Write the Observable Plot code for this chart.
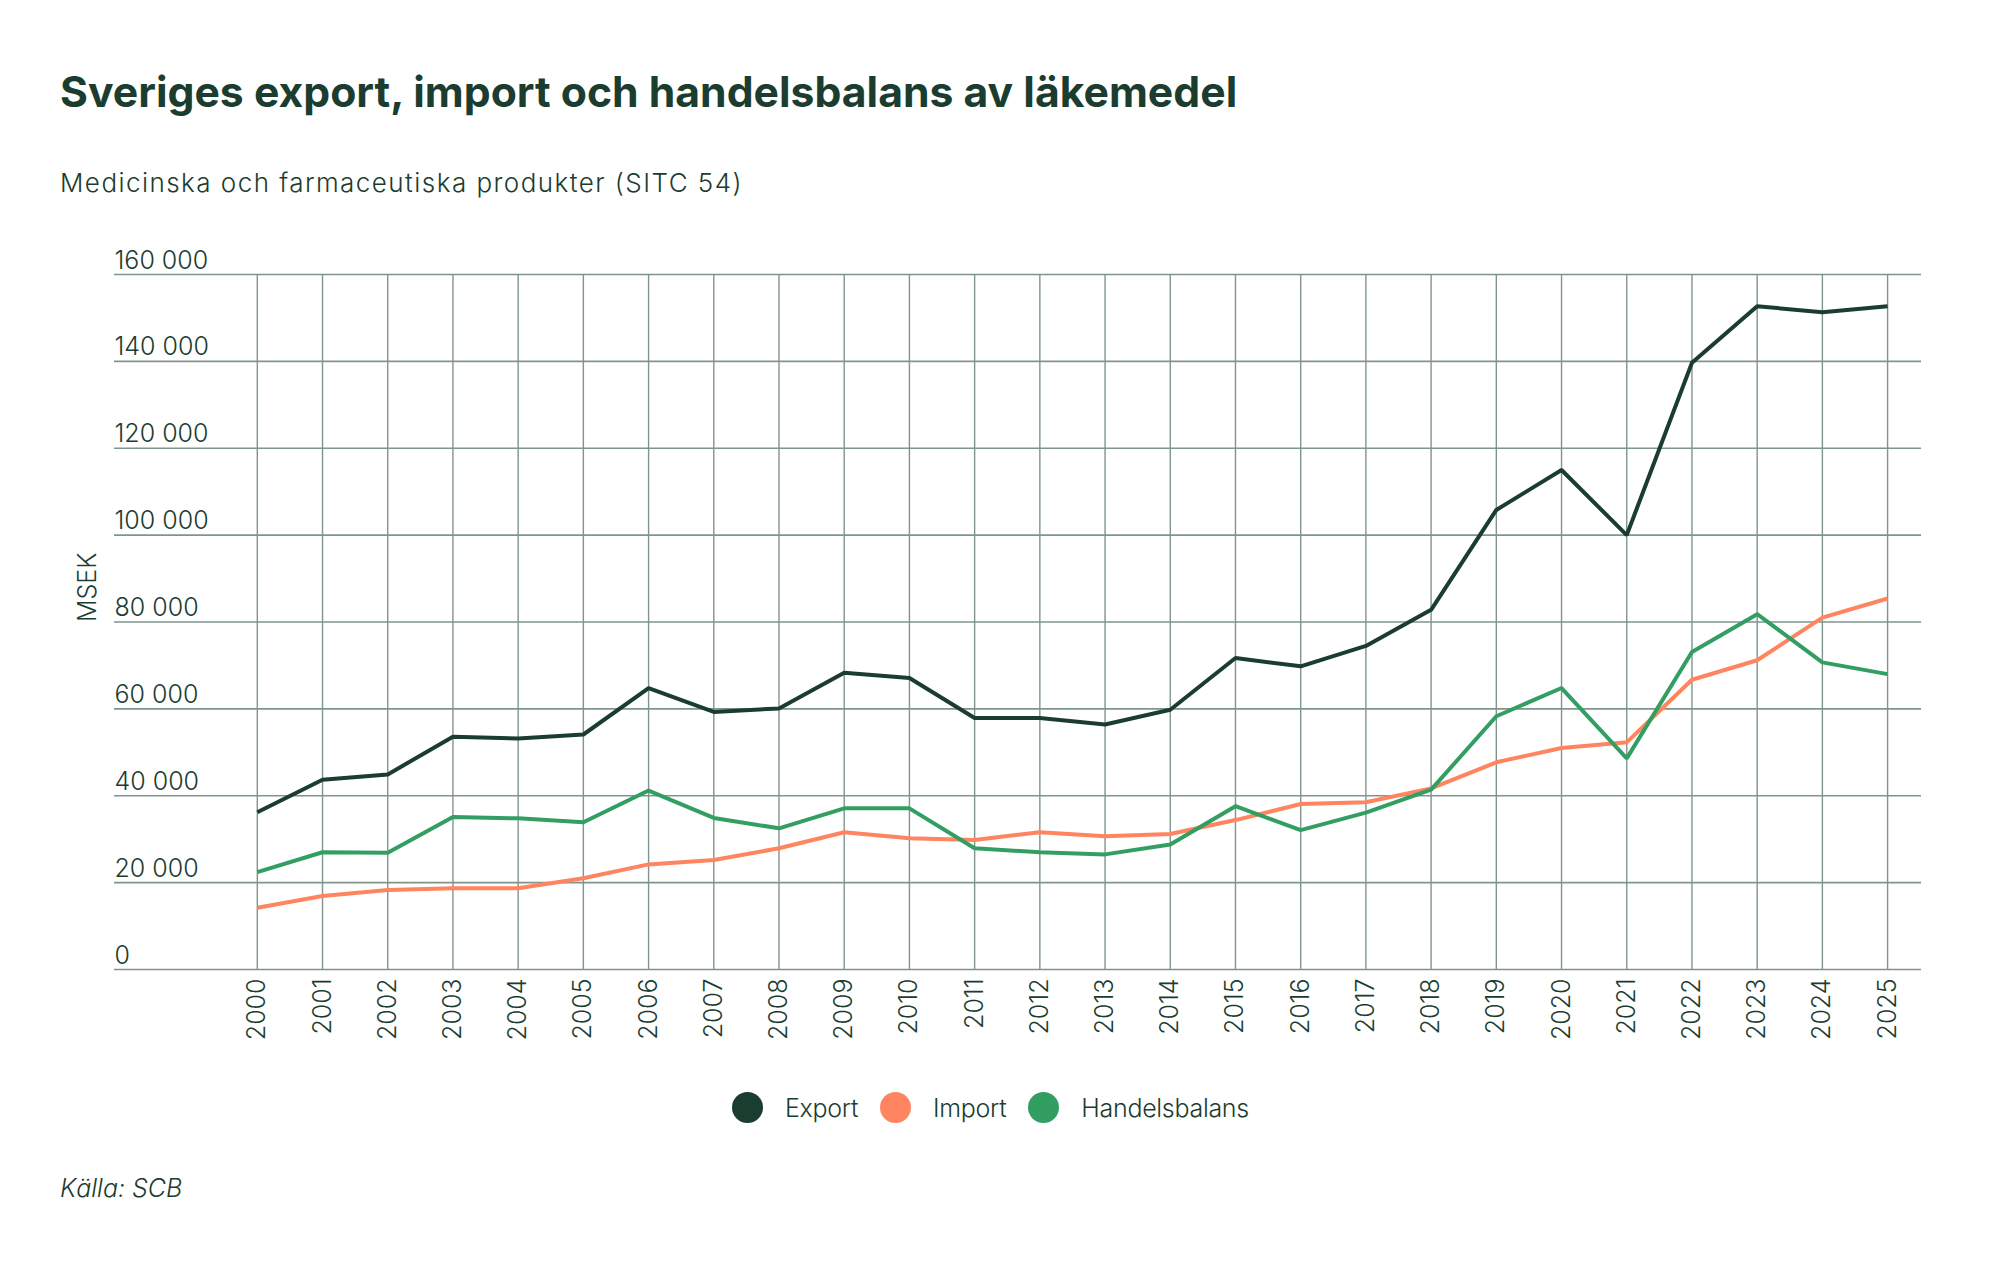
<!DOCTYPE html>
<html>
<head>
<meta charset="utf-8">
<script src="https://cdn.jsdelivr.net/npm/d3@7"></script>
<script src="https://cdn.jsdelivr.net/npm/@observablehq/plot@0.6"></script>
<style>
  html, body { margin: 0; padding: 0; background: #fff; }
  body { width: 2000px; height: 1270px; position: relative; font-family: Inter, "Noto Sans", sans-serif; color: #1b3d2f; overflow: hidden; }
  #title { position: absolute; left: 60px; top: 71px; font-size: 42.7px; line-height: 42px; font-weight: 700; letter-spacing: 0px; white-space: nowrap; }
  #subtitle { position: absolute; left: 60px; top: 170px; font-size: 26px; line-height: 26px; font-weight: 300; letter-spacing: 1.45px; white-space: nowrap; }
  #chart { position: absolute; left: 0; top: 230px; }
  #legend { position: absolute; left: 732px; top: 1092px; height: 31px; display: flex; align-items: center; font-size: 25px; font-weight: 300; letter-spacing: -0.3px; }
  #legend .item { display: flex; align-items: center; margin-right: 22px; }
  #legend .dot { width: 31px; height: 31px; border-radius: 50%; margin-right: 22px; }
  #caption { position: absolute; left: 60px; top: 1176px; font-size: 25px; line-height: 25px; font-style: italic; font-weight: 300; }
</style>
</head>
<body>
<div id="title">Sveriges export, import och handelsbalans av läkemedel</div>
<div id="subtitle">Medicinska och farmaceutiska produkter (SITC 54)</div>
<div id="chart"></div>
<div id="legend"></div>
<div id="caption">Källa: SCB</div>
<script>
const years = [2000,2001,2002,2003,2004,2005,2006,2007,2008,2009,2010,2011,2012,2013,2014,2015,2016,2017,2018,2019,2020,2021,2022,2023,2024,2025];
const exportValues = [36200,43700,44900,53600,53200,54100,64800,59300,60100,68300,67100,57900,57900,56400,59800,71700,69800,74500,82800,105800,115000,100000,139700,152700,151300,152700];
const importValues = [14200,16900,18300,18700,18700,21000,24200,25200,27900,31600,30200,29800,31600,30700,31200,34400,38100,38500,41700,47700,51000,52300,66700,71200,81000,85400];
const balansValues = [22400,27000,26900,35100,34800,33900,41200,34900,32500,37100,37100,27900,27000,26500,28800,37600,32100,36100,41400,58300,64800,48600,73100,81800,70700,68000];
const seriesNames = ["Export", "Import", "Handelsbalans"];
const seriesColors = ["#1b3d2f", "#ff8460", "#339e62"];
const yTicks = [0,20000,40000,60000,80000,100000,120000,140000,160000];
const yLabel = "MSEK";

const data = [];
years.forEach((y, i) => {
  data.push({year: y, value: exportValues[i], series: seriesNames[0]});
  data.push({year: y, value: importValues[i], series: seriesNames[1]});
  data.push({year: y, value: balansValues[i], series: seriesNames[2]});
});

const fmt = d3.formatLocale({decimal: ",", thousands: " ", grouping: [3], currency: ["", ""]}).format(",");
const gridColor = "#7f958c";
const textColor = "#1b3d2f";

const chart = Plot.plot({
  width: 2000,
  height: 830,
  marginLeft: 114,
  marginRight: 79,
  marginTop: 44,
  marginBottom: 91,
  style: {fontFamily: "Inter, 'Noto Sans', sans-serif", color: textColor, background: "transparent"},
  x: {domain: [1997.81, 2025.52], axis: null},
  y: {domain: [0, 160000], axis: null},
  color: {domain: seriesNames, range: seriesColors},
  marks: [
    Plot.ruleY(yTicks, {stroke: gridColor, strokeWidth: 1.6}),
    Plot.ruleX(years, {y1: 0, y2: 160000, stroke: gridColor, strokeWidth: 1.4}),
    Plot.text(yTicks, {y: d => d, text: d => fmt(d), frameAnchor: "left", textAnchor: "start", lineAnchor: "bottom", dy: -6, fontSize: 25, fill: textColor, fontWeight: 300}),
    Plot.text(years, {x: d => d, y: 0, text: d => String(d), rotate: -90, textAnchor: "end", lineAnchor: "middle", dy: 9, fontSize: 25, fill: textColor, fontWeight: 300}),
    Plot.text([yLabel], {text: d => d, frameAnchor: "left", rotate: -90, dx: -27, fontSize: 25, fill: textColor, fontWeight: 300}),
    Plot.line(data, {x: "year", y: "value", stroke: "series", strokeWidth: 4, strokeLinejoin: "miter", strokeLinecap: "butt"})
  ]
});
document.getElementById("chart").appendChild(chart);

const legend = document.getElementById("legend");
seriesNames.forEach((name, i) => {
  const item = document.createElement("div");
  item.className = "item";
  const dot = document.createElement("span");
  dot.className = "dot";
  dot.style.background = seriesColors[i];
  const label = document.createElement("span");
  label.textContent = name;
  item.appendChild(dot);
  item.appendChild(label);
  legend.appendChild(item);
});
</script>
</body>
</html>
